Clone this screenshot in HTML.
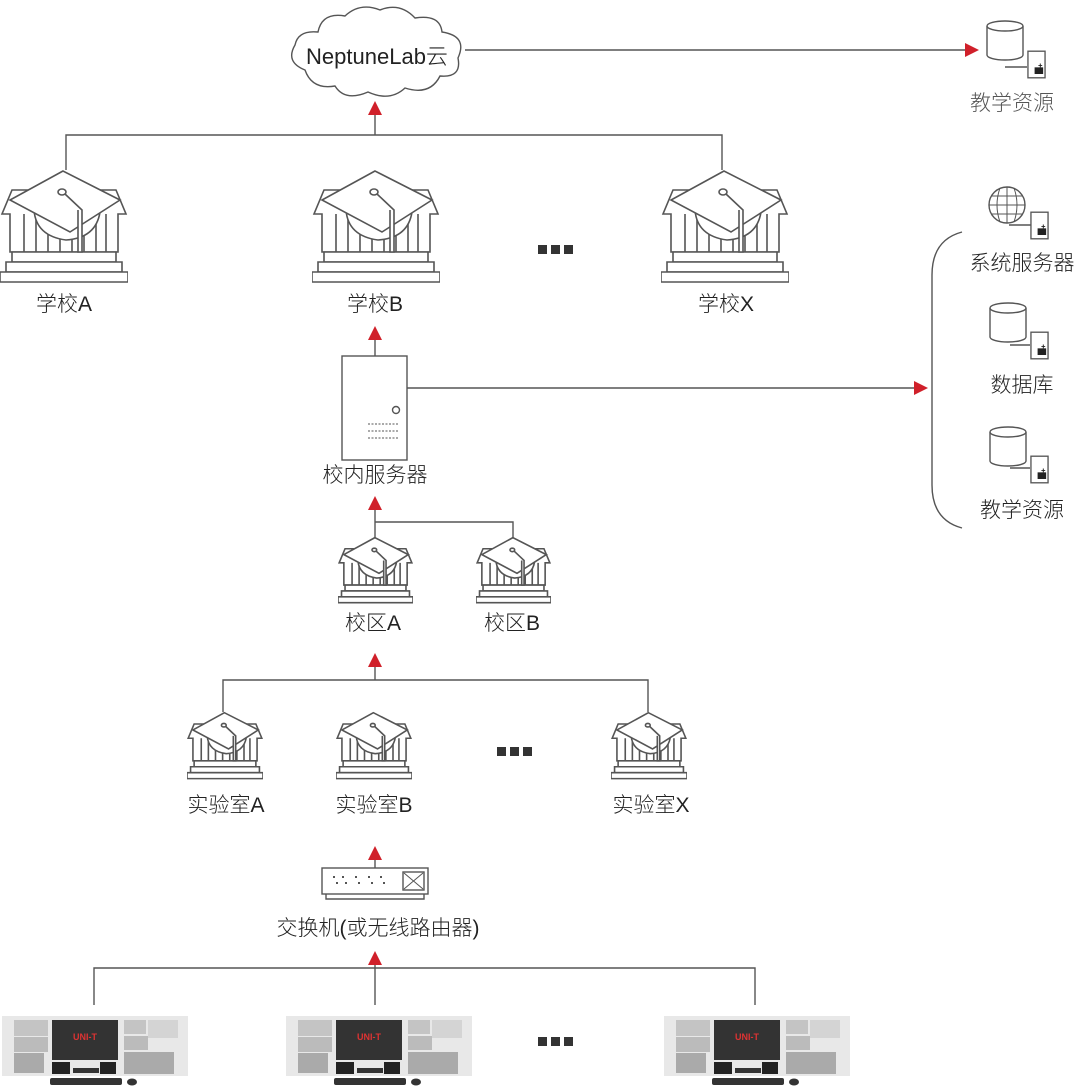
<!DOCTYPE html>
<html><head><meta charset="utf-8"><style>
html,body{margin:0;padding:0;background:#fff}
svg{display:block}
text{font-family:"Liberation Sans","Noto Sans CJK SC",sans-serif;fill:#222;font-size:21px;font-weight:300}
</style></head><body>
<svg width="1080" height="1088" viewBox="0 0 1080 1088" xmlns="http://www.w3.org/2000/svg">
<defs>
<symbol id="sch" viewBox="0 0 128 124">
<g fill="#fff" stroke="#555" stroke-width="1.6">
<path d="M12 30 L2 54 L10 54 L10 92 L118 92 L118 54 L126 54 L116 30 Z" vector-effect="non-scaling-stroke"/>
<path d="M24 54V92M36 54V92M48 54V92M60 54V92M72 54V92M84 54V92M96 54V92M106 54V92" vector-effect="non-scaling-stroke"/>
<rect x="12" y="92" width="104" height="10" vector-effect="non-scaling-stroke"/>
<rect x="6" y="102" width="116" height="10" vector-effect="non-scaling-stroke"/>
<rect x="0" y="112" width="128" height="10" vector-effect="non-scaling-stroke"/>
<path d="M34 50 Q36 76 66 80 Q96 78 100 52 Z" vector-effect="non-scaling-stroke"/>
<path d="M63 11 L10 40 L70 72 L120 40 Z" vector-effect="non-scaling-stroke"/>
<ellipse cx="62" cy="32" rx="4" ry="3" vector-effect="non-scaling-stroke"/>
<path d="M65 34 L82 50 L82 92 L78 92 L78 50" vector-effect="non-scaling-stroke"/>
</g>
</symbol>
<symbol id="box" viewBox="0 0 20 30">
<rect x="1" y="1" width="18" height="28" fill="#fff" stroke="#555" stroke-width="1.4"/>
<rect x="8" y="18" width="9" height="7" fill="#222"/>
<path d="M14 14v4M12 16h4" stroke="#222" stroke-width="1"/>
</symbol>
<symbol id="ws" viewBox="0 0 200 78">
<rect x="2" y="6" width="186" height="60" fill="#e8e8e8"/>
<rect x="52" y="10" width="66" height="40" fill="#333"/>
<text x="85" y="30" text-anchor="middle" style="font-size:9px;fill:#d33;font-weight:bold">UNI-T</text>
<rect x="14" y="10" width="34" height="16" fill="#c4c4c4"/><rect x="14" y="27" width="34" height="15" fill="#bbb"/><rect x="14" y="43" width="30" height="20" fill="#aaa"/>
<rect x="124" y="10" width="22" height="14" fill="#c4c4c4"/><rect x="148" y="10" width="30" height="18" fill="#d4d4d4"/>
<rect x="124" y="26" width="24" height="14" fill="#bbb"/><rect x="124" y="42" width="50" height="22" fill="#aaa"/>
<rect x="52" y="52" width="18" height="12" fill="#222"/><rect x="73" y="58" width="26" height="5" fill="#333"/><rect x="100" y="52" width="16" height="12" fill="#222"/>
<rect x="50" y="68" width="72" height="7" rx="2" fill="#333"/><ellipse cx="132" cy="72" rx="5" ry="3.5" fill="#333"/>
</symbol>
<symbol id="cyl" viewBox="0 0 38 42">
<path d="M1 6 V35 A18 5 0 0 0 37 35 V6" fill="#fff" stroke="#555" stroke-width="1.4"/>
<ellipse cx="19" cy="6" rx="18" ry="5" fill="#fff" stroke="#555" stroke-width="1.4"/>
</symbol>
</defs>
<g stroke="#555" stroke-width="1.4" fill="none">
<path d="M305 70 Q285 62 295 45 Q298 30 318 32 Q322 12 345 16 Q360 2 380 10 Q400 2 415 18 Q440 14 442 32 Q468 36 458 58 Q462 78 440 76 Q430 96 405 88 Q390 102 368 92 Q345 102 335 86 Q312 90 305 70 Z"/>
<path d="M465 50 H968"/>
<path d="M66 170 V135 H722 V170 M375 135 V115"/>
<path d="M375 356 V340"/>
<rect x="342" y="356" width="65" height="104"/>
<circle cx="396" cy="410" r="3.5"/>
<path d="M368 424 H398 M368 431 H398 M368 438 H398" stroke-dasharray="2 1.5" stroke-width="1"/>
<path d="M407 388 H915"/>
<path d="M375 545 V510 M375 522 H513 V545"/>
<path d="M223 712 V680 H648 V712 M375 680 V667"/>
<path d="M375 868 V860"/>
<rect x="322" y="868" width="106" height="26"/>
<path d="M326 894 V899 H424 V894"/>
<rect x="403" y="872" width="21" height="18"/>
<path d="M404 873 L423 889 M423 873 L404 889" stroke-width="1"/>
<path d="M333 877 h2 M342 877 h2 M355 877 h2 M368 877 h2 M380 877 h2 M336 883 h2 M345 883 h2 M358 883 h2 M371 883 h2 M383 883 h2" stroke-width="2"/>
<path d="M94 1005 V968 H755 V1005 M375 1005 V965"/>
<path d="M962 232 Q932 240 932 275 V485 Q932 520 962 528"/>
<circle cx="1007" cy="205" r="18"/>
<path d="M989 205 H1025 M1007 187 V223 M991 196 H1023 M991 214 H1023 M1000 188 Q994 205 1000 222 M1014 188 Q1020 205 1014 222" stroke-width="1"/>
<path d="M1009 225 H1031 M1010 345 H1030 M1010 468 H1030 M1005 67 H1027"/>
</g>
<g fill="#d0202a">
<path d="M368 115 L375 101 L382 115 Z"/>
<path d="M368 340 L375 326 L382 340 Z"/>
<path d="M368 510 L375 496 L382 510 Z"/>
<path d="M368 667 L375 653 L382 667 Z"/>
<path d="M368 860 L375 846 L382 860 Z"/>
<path d="M368 965 L375 951 L382 965 Z"/>
<path d="M965 43 L979 50 L965 57 Z"/>
<path d="M914 381 L928 388 L914 395 Z"/>
</g>
<use href="#sch" x="0" y="160" width="128" height="124"/>
<use href="#sch" x="312" y="160" width="128" height="124"/>
<use href="#sch" x="661" y="160" width="128" height="124"/>
<use href="#sch" x="338" y="531" width="75" height="73"/>
<use href="#sch" x="476" y="531" width="75" height="73"/>
<use href="#sch" x="187" y="706" width="76" height="74"/>
<use href="#sch" x="336" y="706" width="76" height="74"/>
<use href="#sch" x="611" y="706" width="76" height="74"/>
<use href="#cyl" x="986" y="20" width="38" height="42"/>
<use href="#box" x="1027" y="50" width="19" height="29"/>
<use href="#box" x="1030" y="211" width="19" height="29"/>
<use href="#cyl" x="989" y="302" width="38" height="42"/>
<use href="#box" x="1030" y="331" width="19" height="29"/>
<use href="#cyl" x="989" y="426" width="38" height="42"/>
<use href="#box" x="1030" y="455" width="19" height="29"/>
<use href="#ws" x="0" y="1010" width="200" height="78"/>
<use href="#ws" x="284" y="1010" width="200" height="78"/>
<use href="#ws" x="662" y="1010" width="200" height="78"/>
<g fill="#333">
<rect x="538" y="245" width="9" height="9"/><rect x="551" y="245" width="9" height="9"/><rect x="564" y="245" width="9" height="9"/>
<rect x="497" y="747" width="9" height="9"/><rect x="510" y="747" width="9" height="9"/><rect x="523" y="747" width="9" height="9"/>
<rect x="538" y="1037" width="9" height="9"/><rect x="551" y="1037" width="9" height="9"/><rect x="564" y="1037" width="9" height="9"/>
</g>
<g text-anchor="middle">
<text x="377" y="64" style="font-size:22px">NeptuneLab云</text>
<text x="1012" y="110" style="fill:#555">教学资源</text>
<text x="64" y="311">学校A</text>
<text x="375" y="311">学校B</text>
<text x="726" y="311">学校X</text>
<text x="1022" y="270">系统服务器</text>
<text x="1022" y="392">数据库</text>
<text x="1022" y="517">教学资源</text>
<text x="375" y="482">校内服务器</text>
<text x="373" y="630">校区A</text>
<text x="512" y="630">校区B</text>
<text x="226" y="812">实验室A</text>
<text x="374" y="812">实验室B</text>
<text x="651" y="812">实验室X</text>
<text x="378" y="935">交换机(或无线路由器)</text>
</g>
</svg>
</body></html>
